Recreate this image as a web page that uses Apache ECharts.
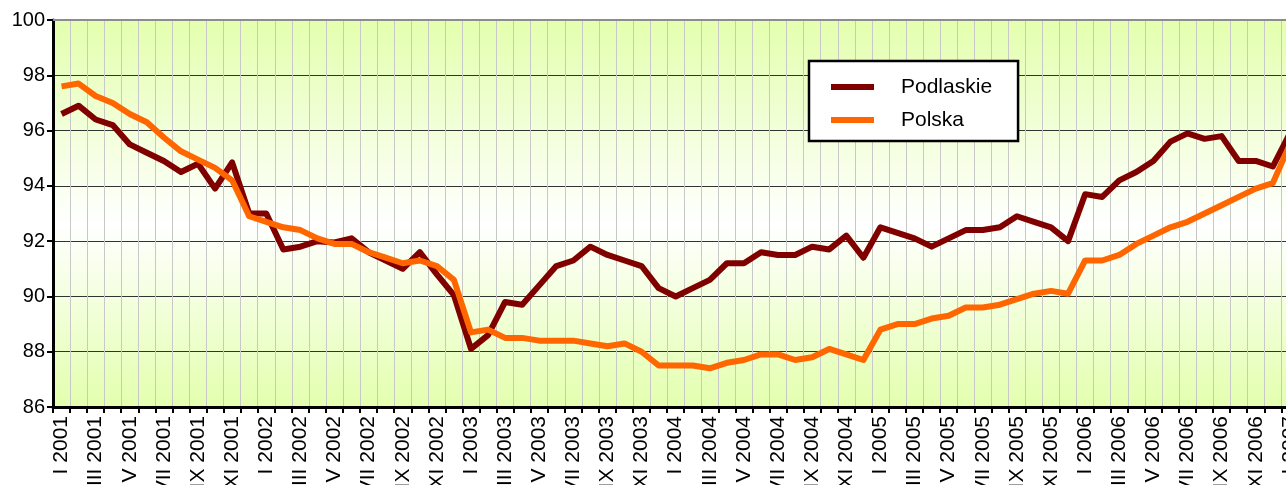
<!DOCTYPE html>
<html>
<head>
<meta charset="utf-8">
<script src="https://cdn.jsdelivr.net/npm/echarts@6/dist/echarts.min.js"></script>
<style>
html,body{margin:0;padding:0;background:#fff;}
#chart{width:1286px;height:485px;}
</style>
</head>
<body>
<div id="chart"></div>
<script>
const months = ['I','II','III','IV','V','VI','VII','VIII','IX','X','XI','XII'];
const years = [2001, 2002, 2003, 2004, 2005, 2006];
const categories = [];
years.forEach(function (y) { months.forEach(function (m) { categories.push(m + ' ' + y); }); });
categories.push('I 2007');

const podlaskie = [
  96.6, 96.9, 96.4, 96.2, 95.5, 95.2, 94.9, 94.5, 94.8, 93.9, 94.85, 93.0,
  93.0, 91.7, 91.8, 92.0, 91.95, 92.1, 91.6, 91.3, 91.0, 91.6, 90.8, 90.05,
  88.1, 88.6, 89.8, 89.7, 90.4, 91.1, 91.3, 91.8, 91.5, 91.3, 91.1, 90.3,
  90.0, 90.3, 90.6, 91.2, 91.2, 91.6, 91.5, 91.5, 91.8, 91.7, 92.2, 91.4,
  92.5, 92.3, 92.1, 91.8, 92.1, 92.4, 92.4, 92.5, 92.9, 92.7, 92.5, 92.0,
  93.7, 93.6, 94.2, 94.5, 94.9, 95.6, 95.9, 95.7, 95.8, 94.9, 94.9, 94.7,
  95.9
];
const polska = [
  97.6, 97.7, 97.25, 97.0, 96.6, 96.3, 95.75, 95.25, 94.95, 94.65, 94.2, 92.9,
  92.7, 92.5, 92.4, 92.1, 91.9, 91.9, 91.6, 91.4, 91.2, 91.3, 91.1, 90.6,
  88.7, 88.8, 88.5, 88.5, 88.4, 88.4, 88.4, 88.3, 88.2, 88.3, 88.0, 87.5,
  87.5, 87.5, 87.4, 87.6, 87.7, 87.9, 87.9, 87.7, 87.8, 88.1, 87.9, 87.7,
  88.8, 89.0, 89.0, 89.2, 89.3, 89.6, 89.6, 89.7, 89.9, 90.1, 90.2, 90.1,
  91.3, 91.3, 91.5, 91.9, 92.2, 92.5, 92.7, 93.0, 93.3, 93.6, 93.9, 94.1,
  95.5
];
const seriesNames = ['Podlaskie', 'Polska'];
const yTicks = { min: 86, max: 100, interval: 2 };

const FONT = '"Liberation Sans", Arial, sans-serif';
const chart = echarts.init(document.getElementById('chart'), null, { renderer: 'canvas' });
chart.setOption({
  backgroundColor: '#ffffff',
  animation: false,
  grid: {
    left: 53, top: 20, height: 387, width: 1245.4,
    containLabel: false,
    outerBoundsMode: 'none',
    show: true,
    borderWidth: 0,
    backgroundColor: {
      type: 'linear', x: 0, y: 0, x2: 0, y2: 1,
      colorStops: [
        { offset: 0, color: '#E3FFAE' },
        { offset: 0.53, color: '#FFFFFF' },
        { offset: 1, color: '#E3FFAE' }
      ]
    }
  },
  legend: {
    orient: 'vertical',
    left: 809, top: 61,
    data: [{ name: seriesNames[0], icon: 'rect' }, { name: seriesNames[1], icon: 'rect' }],
    itemWidth: 43, itemHeight: 6,
    itemGap: 9,
    padding: [14, 26, 9, 22],
    backgroundColor: '#ffffff',
    borderColor: '#000000',
    borderWidth: 2.5,
    borderRadius: 0,
    textStyle: { fontFamily: FONT, fontSize: 21, color: '#000', lineHeight: 24, padding: [0, 0, 0, 22] }
  },
  xAxis: [{
    type: 'category',
    data: categories,
    boundaryGap: true,
    axisLine: { show: true, lineStyle: { color: '#000', width: 3 } },
    axisTick: { show: true, interval: 0, length: 6, lineStyle: { color: '#000', width: 2 } },
    axisLabel: { interval: 1, rotate: 90, margin: 9, fontFamily: FONT, fontSize: 21, color: '#000' },
    splitLine: { show: true, interval: 0, lineStyle: { color: '#c8c8c8', width: 1 } }
  }, {
    type: 'category',
    data: categories,
    position: 'top',
    axisLine: { show: true, lineStyle: { color: '#8c8c8c', width: 2 } },
    axisTick: { show: false },
    axisLabel: { show: false },
    splitLine: { show: false }
  }],
  yAxis: {
    type: 'value',
    min: yTicks.min, max: yTicks.max, interval: yTicks.interval,
    axisLine: { show: true, lineStyle: { color: '#000', width: 3 } },
    axisTick: { show: true, length: 6, lineStyle: { color: '#000', width: 2 } },
    axisLabel: { margin: 8, fontFamily: FONT, fontSize: 20, color: '#000' },
    splitLine: { show: true, lineStyle: { color: '#333333', width: 1 } }
  },
  series: [{
    name: seriesNames[0],
    type: 'line',
    data: podlaskie,
    symbol: 'none',
    lineStyle: { color: '#800000', width: 6, join: 'round' },
    itemStyle: { color: '#800000' }
  }, {
    name: seriesNames[1],
    type: 'line',
    data: polska,
    symbol: 'none',
    lineStyle: { color: '#FF6600', width: 6, join: 'round' },
    itemStyle: { color: '#FF6600' }
  }]
});
</script>
</body>
</html>
